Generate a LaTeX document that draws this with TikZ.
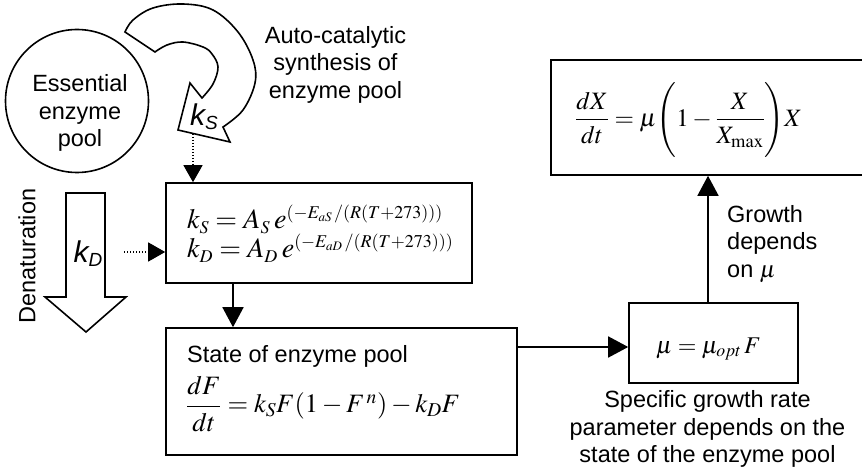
\documentclass[tikz,border=0pt]{standalone}
\usepackage{amsmath}
\usepackage{mathptmx}
\usepackage[no-math]{fontspec}
\setmainfont{Liberation Sans}
\usetikzlibrary{arrows.meta}

% compact exponents for the rate-constant lines
\DeclareMathSizes{28}{28}{18}{13}

\tikzset{
  stroke/.style={line width=1.6pt, draw=black},
  panel/.style={stroke, rectangle, inner sep=0pt},
  caption/.style={inner sep=0pt, font=\fontsize{23.5}{27.5}\selectfont},
  eqn/.style={inner sep=0pt},
  flow/.style={line width=1.6pt, -{Triangle[length=20pt,width=21pt]}},
  hint/.style={line width=1.3pt, dash pattern=on 1.4pt off 1.6pt,
               -{Triangle[length=17pt,width=19pt]}},
  blockarrow/.style={stroke, fill=white, line join=miter},
}

% rate symbol set in sans italic with a lowered subscript
\newcommand{\ratesym}[1]{{\fontsize{30}{30}\selectfont\itshape k\raisebox{-4pt}{\fontsize{19}{19}\selectfont #1}}}
% invisible strut that sets the height of the tall parentheses
\newcommand{\tallstrut}{\vrule height 42pt depth 30pt width 0pt}

\begin{document}
\begin{tikzpicture}[x=1pt,y=-1pt]
\useasboundingbox (0,0) rectangle (862,470);
\clip (0,0) rectangle (862,470);

% enzyme pool
\node[stroke, circle, minimum size=143pt, inner sep=0pt] (pool) at (77,101) {};
\node[caption, align=center] (poolText) at (80,113) {Essential\\enzyme\\pool};

% curved block arrow for auto-catalytic synthesis
\draw[blockarrow] (125,32)
  -- plot[smooth, tension=0.6] coordinates {(125,32) (133,20) (153,8) (183,4) (213,10) (238,32) (253,60) (255,83) (243,110) (223,127)}
  -- (230,142) -- (178,130) -- (190,83) -- (202,98)
  -- plot[smooth, tension=0.6] coordinates {(202,98) (213,84) (218,67) (212,54) (203,47) (183,42) (167,45) (155,52)}
  -- cycle;
\node[inner sep=0pt] (ks) at (204,117) {\ratesym{S}};

\node[caption, align=center] (autoText) at (335.5,64.5) {Auto-catalytic\\synthesis of\\enzyme pool};

% denaturation block arrow
\draw[blockarrow] (66,193) -- (105,193) -- (105,297) -- (126,297) -- (86,332) -- (45,297) -- (66,297) -- cycle;
\node[inner sep=0pt] (kd) at (88,254) {\ratesym{D}};
\node[caption, rotate=90] (denat) at (27,256) {Denaturation};

% rate constants
\node[panel, minimum width=306pt, minimum height=100pt] (rates) at (319,233) {};
\node[eqn, anchor=base west] (eqS) at (187,229)
  {\fontsize{28}{30}\selectfont $k_S = A_S\: e^{(-E_{aS}\,/(R(T+273)))}$};
\node[eqn, anchor=base west] (eqD) at (187,258)
  {\fontsize{28}{30}\selectfont $k_D = A_D\: e^{(-E_{aD}\,/(R(T+273)))}$};

% state of enzyme pool
\node[panel, minimum width=351pt, minimum height=127pt] (state) at (341.5,391.5) {};
\node[caption, anchor=base west] (stateText) at (187,362) {State of enzyme pool};
\node[eqn, anchor=west] (eqF) at (186,404)
  {\fontsize{26.5}{29}\selectfont $\dfrac{dF}{dt} = k_S F(1-F^{\,n}) - k_D F$};

% specific growth rate
\node[panel, minimum width=169pt, minimum height=80pt] (mu) at (713.5,343) {};
\node[eqn] (eqMu) at (708.5,349)
  {\fontsize{24}{26}\selectfont $\mu = \mu_{opt}\,F$};
\node[caption, align=center] (muText) at (707.5,429)
  {Specific growth rate\\parameter depends on the\\state of the enzyme pool};

% logistic growth
\node[panel, minimum width=315pt, minimum height=115pt] (growth) at (708.5,117.5) {};
\node[eqn, anchor=west] (eqX) at (575,120)
  {\fontsize{25}{28}\selectfont $\dfrac{dX}{dt} = \mu\!\left(\tallstrut 1-\dfrac{X}{X_{\max}}\right)\!X$};
\node[caption, align=left, anchor=west] (growText) at (727,244) {Growth\\depends\\on $\mu$};

% connectors
\coordinate (ksFoot) at (193,134);
\coordinate (kdFoot) at (124,252);
\coordinate (drop) at (233,0);
\coordinate (level) at (0,347);
\coordinate (rise) at (708,0);

\draw[hint] (ksFoot) -- (ksFoot |- rates.north);
\draw[hint] (kdFoot) -- (kdFoot -| rates.west);
\draw[flow] (drop |- rates.south) -- (drop |- state.north);
\draw[flow] (state.east |- level) -- (mu.west |- level);
\draw[flow] (rise |- mu.north) -- (rise |- growth.south);
\end{tikzpicture}
\end{document}
